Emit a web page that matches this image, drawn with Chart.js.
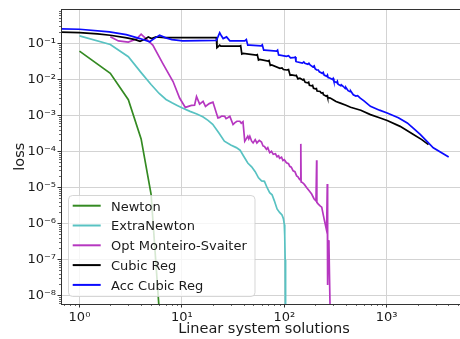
<!DOCTYPE html>
<html><head><meta charset="utf-8">
<script src="https://cdn.jsdelivr.net/npm/chart.js@4/dist/chart.umd.min.js"></script>
<style>html,body{margin:0;padding:0;background:#fff;overflow:hidden;width:460px;height:339px}canvas{display:block}</style>
</head><body>
<canvas id="c" width="470" height="339" style="width:470px;height:339px"></canvas>
<script>
// ---------- data ----------
const seriesNames = ['Newton', 'ExtraNewton', 'Opt Monteiro-Svaiter', 'Cubic Reg', 'Acc Cubic Reg'];
const seriesColors = ['#348a22', '#58c2c2', '#b637c0', '#000000', '#0b0bff'];

const newtonX = [1, 2, 3, 4, 5, 6];
const newtonY = [0.060, 0.0146, 0.0027, 2.2e-4, 6.5e-6, 4e-9];

const extraX = [1, 2, 3, 4, 5, 6, 7, 8, 9, 10, 12, 14, 16, 18, 20, 23, 26, 30, 34, 37, 40, 44, 48, 52, 56, 60, 64, 68, 72, 76, 80, 85, 90, 95, 98, 100, 101, 102, 103];
const extraY = [0.159, 0.092, 0.042, 0.0152, 0.0071, 0.0040, 0.00274, 0.00222, 0.00187, 0.0016, 0.00128, 0.00108, 9.0e-4, 7.2e-4, 5.6e-4, 3.2e-4, 1.9e-4, 1.48e-4, 1.26e-4, 1.07e-4, 7.4e-5, 4.7e-5, 3.7e-5, 2.7e-5, 1.83e-5, 1.5e-5, 1.46e-5, 9.7e-6, 7.1e-6, 6.2e-6, 4.2e-6, 2.5e-6, 2.0e-6, 1.7e-6, 1.35e-6, 9.3e-7, 4.6e-7, 9.5e-8, 1e-10];

const oms_X = [2, 2.4, 3, 3.6, 4, 5.2, 6.5, 8.2, 9.5, 10.8, 12.4, 13.3, 13.9, 14.9, 16.1, 17, 18.5, 20.1, 22.5, 23.4, 24.5, 26.2, 27, 28, 29.4, 31.6, 33, 34.5, 36.8, 38, 39.5, 41.1, 42.5, 44, 45, 46.1, 48, 49.6, 52, 54, 57, 59.9, 62, 64, 67, 69, 72, 75, 78, 82, 85, 88, 90, 94, 97, 100, 105, 110, 113, 117, 122, 127, 132, 136, 140, 143, 145, 146, 150, 157, 165, 175, 185, 195, 204, 207, 208, 215, 225, 232, 245, 259, 263, 265, 268, 273, 279, 290];
const oms_Y = [0.15, 0.115, 0.107, 0.13, 0.177, 0.088, 0.0274, 0.0086, 0.0030, 0.00165, 0.00187, 0.0019, 0.0033, 0.00204, 0.00242, 0.00176, 0.0021, 0.00231, 0.00084, 0.00087, 0.00095, 0.00093, 0.0008, 0.00085, 0.00093, 0.00055, 0.00062, 0.00068, 0.00068, 0.0006, 0.00066, 0.00019, 0.00022, 0.00026, 0.00022, 0.00026, 0.00019, 0.00017, 0.00021, 0.00017, 0.0002, 0.00018, 0.00014, 0.000135, 0.000113, 0.000125, 0.000091, 0.0001, 0.000082, 0.000085, 0.00007, 0.000075, 0.000064, 0.000068, 0.000055, 0.000058, 0.000048, 0.000045, 0.000038, 0.000036, 0.0000285, 0.000027, 0.0000207, 0.0000195, 0.000017, 0.000016, 0.00016, 0.000014, 0.0000136, 0.000012, 0.0000099, 0.000008, 0.0000065, 0.0000048, 0.0000042, 0.000056, 0.0000038, 0.0000034, 0.000003, 0.0000028, 0.0000013, 0.00000063, 0.0000123, 0.0000000195, 0.00000034, 0.00000025, 0.0000000075, 1e-10];

const cubicX = [0.5, 1, 1.5, 2, 2.9, 3.5, 3.9, 4.4, 4.7, 5.05, 5.6, 6.8, 10, 15, 21.7, 22.0, 22.5, 23.4, 24, 36.7, 37.5, 38.5, 39.7, 53.3, 54.5, 56, 57.5, 69.4, 71, 73, 75.3, 90.6, 95, 98, 105.5, 110, 114, 118, 128, 131, 136, 142, 152, 155, 160, 170, 173, 176, 186, 189, 193, 202, 206, 209, 224, 230, 238, 241, 255, 262, 265, 281, 300, 320, 353, 400, 444, 558, 694, 850, 1011, 1352, 1825, 2200, 2560];
const cubicY = [0.207, 0.195, 0.18, 0.166, 0.14, 0.125, 0.112, 0.13, 0.149, 0.134, 0.149, 0.143, 0.143, 0.143, 0.143, 0.075, 0.079, 0.088, 0.083, 0.083, 0.085, 0.05, 0.0517, 0.0467, 0.048, 0.034, 0.0353, 0.0319, 0.033, 0.024, 0.0248, 0.020, 0.0205, 0.0185, 0.018, 0.0185, 0.0128, 0.0131, 0.0125, 0.0128, 0.0102, 0.0106, 0.0095, 0.0099, 0.0082, 0.0079, 0.0082, 0.0068, 0.0065, 0.0067, 0.0056, 0.0054, 0.0055, 0.0047, 0.00455, 0.0041, 0.0042, 0.0037, 0.0034, 0.0035, 0.0031, 0.00298, 0.0027, 0.0024, 0.00217, 0.0019, 0.00166, 0.00137, 0.00104, 0.00085, 0.00071, 0.00049, 0.000292, 0.00021, 0.000153];

const accX = [0.5, 1, 1.96, 2.86, 3.9, 4.84, 5.5, 6.06, 6.97, 8, 10.2, 21.7, 22.5, 23.4, 24.3, 25.3, 27.3, 29.4, 41.1, 42.6, 44, 46.1, 59.5, 61, 63, 64.3, 84, 86, 88, 90.6, 105, 110, 115, 122, 128, 130, 132, 150, 155, 159, 170, 174, 178.6, 190, 196, 200, 207, 215, 220, 235, 240, 245, 260, 264, 268, 281, 295, 300, 305, 325, 330, 335, 355, 360, 378, 395, 400, 420, 440, 445, 472, 500, 520, 552, 600, 694, 850, 1011, 1300, 1588, 1850, 2125, 2850, 4030];
const accY = [0.252, 0.243, 0.205, 0.172, 0.134, 0.109, 0.14, 0.166, 0.140, 0.125, 0.116, 0.12, 0.15, 0.196, 0.16, 0.134, 0.149, 0.116, 0.116, 0.126, 0.088, 0.088, 0.084, 0.09, 0.064, 0.064, 0.060, 0.064, 0.047, 0.0467, 0.043, 0.045, 0.039, 0.0394, 0.041, 0.031, 0.0305, 0.028, 0.030, 0.0275, 0.026, 0.0275, 0.0248, 0.022, 0.0235, 0.0195, 0.018, 0.018, 0.016, 0.0145, 0.0155, 0.013, 0.012, 0.013, 0.011, 0.0106, 0.0098, 0.0105, 0.0088, 0.008, 0.0087, 0.0073, 0.0066, 0.007, 0.00625, 0.0055, 0.0059, 0.0048, 0.0045, 0.0047, 0.00369, 0.0034, 0.0035, 0.00298, 0.0025, 0.00176, 0.00138, 0.00115, 0.00085, 0.00061, 0.00042, 0.000292, 0.000125, 0.000069];

const xTickValues = [1, 10, 100, 1000];
const xTickLabels = ['10\u2070', '10\u00b9', '10\u00b2', '10\u00b3'];
const yTickValues = [1e-8, 1e-7, 1e-6, 1e-5, 1e-4, 1e-3, 1e-2, 1e-1];
const yTickLabels = ['10\u207b\u2078', '10\u207b\u2077', '10\u207b\u2076', '10\u207b\u2075', '10\u207b\u2074', '10\u207b\u00b3', '10\u207b\u00b2', '10\u207b\u00b9'];

// ---------- build ----------
const xs = [newtonX, extraX, oms_X, cubicX, accX];
const ys = [newtonY, extraY, oms_Y, cubicY, accY];
const datasets = seriesNames.map((name, i) => ({
  label: name,
  data: xs[i].map((x, j) => ({x: x, y: ys[i][j]})),
  borderColor: seriesColors[i],
  backgroundColor: seriesColors[i],
  borderWidth: 1.7,
  pointRadius: 0,
  tension: 0,
  fill: false,
  clip: 0,
  order: seriesNames.length - i
}));

const FONT = '"DejaVu Sans", sans-serif';

const decorPlugin = {
  id: 'decor',
  afterDatasetsDraw(chart) {
    const ctx = chart.ctx;
    const a = chart.chartArea;
    const xs_ = chart.scales.x, ys_ = chart.scales.y;
    ctx.save();
    // minor ticks
    ctx.strokeStyle = '#444';
    ctx.lineWidth = 0.8;
    ctx.beginPath();
    for (let d = -1; d <= 3; d++) {
      for (let k = 2; k <= 9; k++) {
        const v = k * Math.pow(10, d);
        if (v < xs_.min || v > xs_.max) continue;
        const p = Math.round(xs_.getPixelForValue(v)) + 0.5;
        ctx.moveTo(p, a.bottom); ctx.lineTo(p, a.bottom + 2);
      }
    }
    for (let d = -9; d <= 0; d++) {
      for (let k = 2; k <= 9; k++) {
        const v = k * Math.pow(10, d);
        if (v < ys_.min || v > ys_.max) continue;
        const p = Math.round(ys_.getPixelForValue(v)) + 0.5;
        ctx.moveTo(a.left, p); ctx.lineTo(a.left - 2, p);
      }
    }
    ctx.stroke();
    // frame
    ctx.strokeStyle = '#333';
    ctx.lineWidth = 1;
    ctx.strokeRect(Math.round(a.left) + 0.5, Math.round(a.top) + 0.5, Math.round(a.right - a.left), Math.round(a.bottom - a.top));
    // legend
    const x0 = 68.5, y0 = 195.5, w = 186.5, h = 101, r = 4;
    ctx.beginPath();
    ctx.roundRect(x0, y0, w, h, r);
    ctx.fillStyle = 'rgba(255,255,255,0.8)';
    ctx.fill();
    ctx.strokeStyle = 'rgba(204,204,204,0.8)';
    ctx.lineWidth = 1;
    ctx.stroke();
    ctx.font = '13px ' + FONT;
    ctx.textBaseline = 'alphabetic';
    ctx.textAlign = 'left';
    chart.data.datasets.forEach((ds, i) => {
      const y = 205.7 + i * 19.8;
      ctx.strokeStyle = ds.borderColor;
      ctx.lineWidth = 2;
      ctx.beginPath(); ctx.moveTo(72.7, y); ctx.lineTo(100.7, y); ctx.stroke();
      ctx.fillStyle = '#1a1a1a';
      ctx.fillText(ds.label, 111, y + 4.8);
    });
    ctx.restore();
  }
};

new Chart(document.getElementById('c'), {
  type: 'line',
  data: { datasets: datasets },
  plugins: [decorPlugin],
  options: {
    responsive: false,
    animation: false,
    devicePixelRatio: 1,
    layout: { padding: { top: 7, right: 3, left: 0, bottom: 0 } },
    plugins: { legend: { display: false }, tooltip: { enabled: false } },
    scales: {
      x: {
        type: 'logarithmic',
        position: 'bottom',
        min: 0.66, max: 6085,
        afterBuildTicks: s => { s.ticks = xTickValues.map(v => ({value: v})); },
        afterFit: s => { s.height = 35; },
        ticks: {
          autoSkip: false, maxRotation: 0, padding: 2,
          color: '#1a1a1a', font: { family: FONT, size: 13 },
          callback: (v, i) => xTickLabels[i]
        },
        grid: { color: '#d3d3d3', lineWidth: 1, drawTicks: true, tickLength: 3.5, tickColor: '#333', tickWidth: 1 },
        border: { display: false },
        title: { display: true, text: 'Linear system solutions', color: '#1a1a1a', font: { family: FONT, size: 14.5 }, padding: { top: 0, bottom: 1.3 } }
      },
      y: {
        type: 'logarithmic',
        position: 'left',
        min: 5.75e-9, max: 0.87,
        afterBuildTicks: s => { s.ticks = yTickValues.map(v => ({value: v})); },
        afterFit: s => { s.width = 61; },
        ticks: {
          autoSkip: false, padding: 1.5,
          color: '#1a1a1a', font: { family: FONT, size: 13 },
          callback: (v, i) => yTickLabels[i]
        },
        grid: { color: '#d3d3d3', lineWidth: 1, drawTicks: true, tickLength: 3.5, tickColor: '#333', tickWidth: 1 },
        border: { display: false },
        title: { display: true, text: 'loss', color: '#1a1a1a', font: { family: FONT, size: 14.5 }, padding: { top: 11.3, bottom: 0 } }
      }
    }
  }
});
</script>
</body></html>
